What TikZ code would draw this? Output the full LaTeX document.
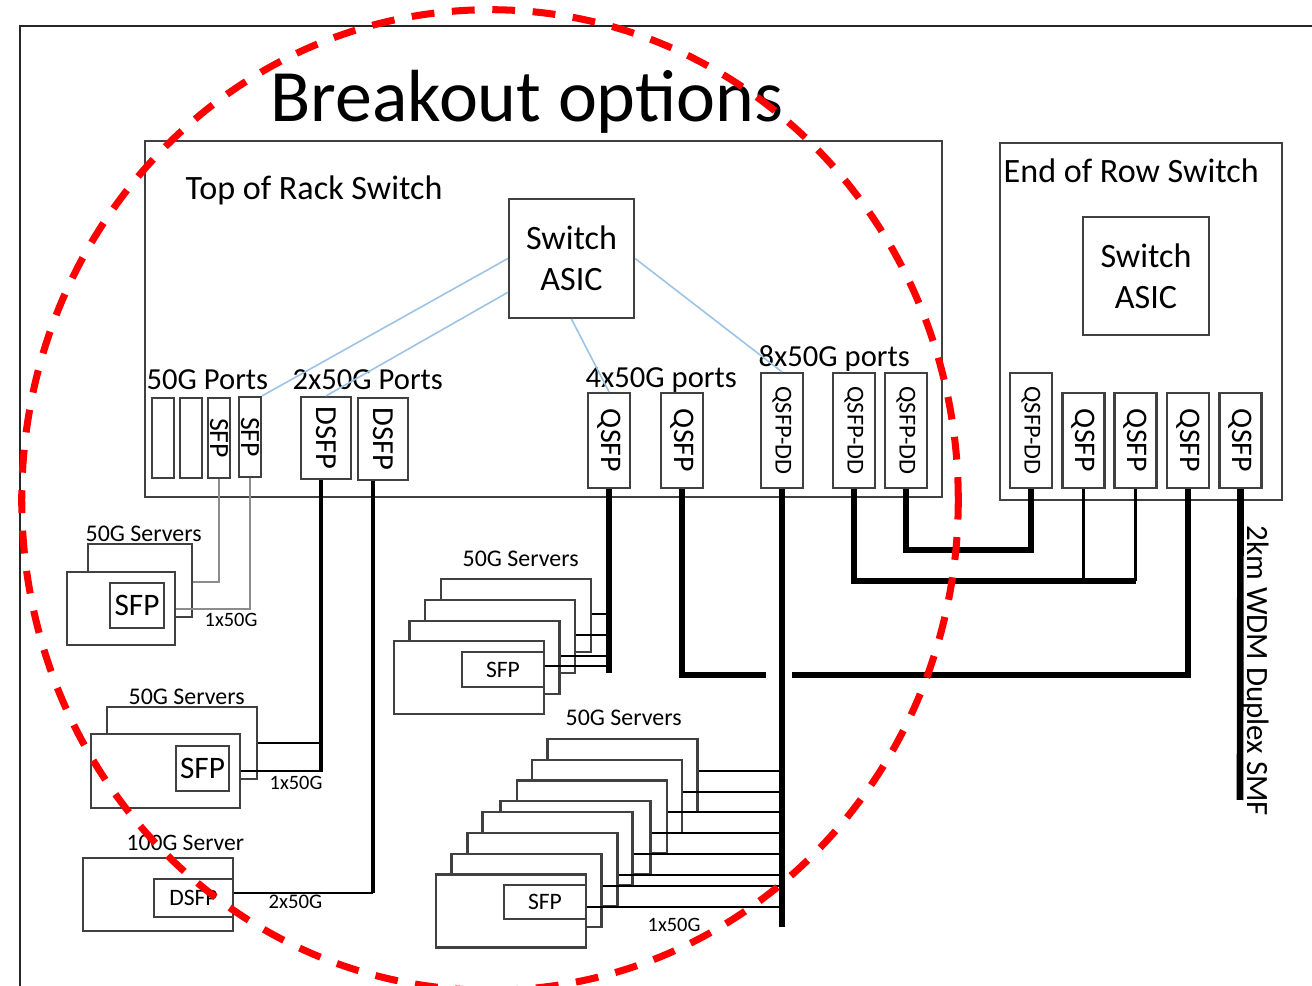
\documentclass[tikz,border=0pt]{standalone}
\usepackage{fontspec}
\setmainfont{Carlito}
\usepackage{graphicx}
\definecolor{boxgray}{HTML}{404040}
\definecolor{asicblue}{HTML}{9DC3E6}
\newcommand{\vtext}[1]{\rotatebox{-90}{#1}}
\newcommand{\fsz}[1]{\fontsize{#1}{#1}\selectfont}

\begin{document}
\begin{tikzpicture}[x=0.01cm, y=-0.01cm,
    bx/.style={draw=boxgray, line width=0.6pt, fill=white, inner sep=0pt},
    slot/.style={bx, minimum width=0.22cm, minimum height=0.8cm, font=\fsz{7.9}},
    dport/.style={bx, minimum width=0.5cm, minimum height=0.82cm, font=\fsz{8.7}},
    qport/.style={bx, minimum width=0.42cm, minimum height=0.95cm, font=\fsz{8.5}},
    ddport/.style={bx, minimum width=0.42cm, minimum height=1.15cm, font=\fsz{6.9}},
    srv/.style={bx, minimum width=1.5cm, minimum height=0.73cm},
    lbl/.style={anchor=base west, inner sep=0pt},
    fiber/.style={line width=1.9pt},
    cable/.style={line width=1.1pt},
    lane/.style={line width=0.45pt},
    tap/.style={line width=0.4pt, black!45},
    link/.style={asicblue, line width=0.45pt}]
  \useasboundingbox (0,0) rectangle (1312,986);
  \draw[black!85, line width=0.5pt] (20,986) -- (20,26) -- (1312,26);

  % switches
  \node[bx, minimum width=7.97cm, minimum height=3.56cm] (tor) at (543.5,319) {};
  \node[bx, minimum width=2.82cm, minimum height=3.57cm] (ers) at (1141,321.5) {};
  \node[lbl, font=\fsz{21}] (title) at (270,122) {Breakout options};
  \node[lbl, font=\fsz{9.7}] (torlbl) at (185,200) {Top of Rack Switch};
  \node[lbl, font=\fsz{9.7}] (erslbl) at (1003,183) {End of Row Switch};
  \node[bx, minimum width=1.25cm, minimum height=1.19cm, align=center,
    font=\fontsize{9.7}{11.7}\selectfont] (asic1) at (571.5,258.5) {Switch\\ASIC};
  \node[bx, minimum width=1.26cm, minimum height=1.18cm, align=center,
    font=\fontsize{9.7}{11.7}\selectfont] (asic2) at (1146,276) {Switch\\ASIC};

  % top of rack ports
  \node[lbl, font=\fsz{8.7}] (l50) at (146,390) {50G Ports};
  \node[lbl, font=\fsz{8.7}] (l2x) at (292,390) {2x50G Ports};
  \node[lbl, font=\fsz{8.7}] (l4x) at (585,388) {4x50G ports};
  \node[lbl, font=\fsz{8.7}] (l8x) at (758,367) {8x50G ports};
  \node[slot] (slot1) at (163,438) {};
  \node[slot] (slot2) at (191,438) {};
  \node[slot] (sfp1) at (219,438) {\vtext{SFP}};
  \node[slot] (sfp2) at (250,437) {\vtext{SFP}};
  \node[dport] (dsfp1) at (326,438) {\vtext{DSFP}};
  \node[dport] (dsfp2) at (383,439) {\vtext{DSFP}};
  \node[qport] (q1) at (609,440.5) {\vtext{QSFP}};
  \node[qport] (q2) at (682,440.5) {\vtext{QSFP}};
  \node[ddport] (dd1) at (782,430.5) {\vtext{QSFP-DD}};
  \node[ddport] (dd2) at (854,430.5) {\vtext{QSFP-DD}};
  \node[ddport] (dd3) at (906,430.5) {\vtext{QSFP-DD}};

  % end of row ports
  \node[ddport] (edd) at (1031,430.5) {\vtext{QSFP-DD}};
  \node[qport] (eq1) at (1083.5,440.5) {\vtext{QSFP}};
  \node[qport] (eq2) at (1135.5,440.5) {\vtext{QSFP}};
  \node[qport] (eq3) at (1188,440.5) {\vtext{QSFP}};
  \node[qport] (eq4) at (1240.5,440.5) {\vtext{QSFP}};

  \draw[link] (asic1.west) -- (sfp2.north east);
  \draw[link] (asic1.208) -- (dsfp1.north);
  \draw[link] (asic1.south) -- (q1.north);
  \draw[link] (asic1.east) -- (dd1.north);

  % servers
  \node[lbl, font=\fsz{6.8}] (g1lbl) at (85,542) {50G Servers};
  \node[srv, minimum width=1.04cm] (s1b) at (140,580.5) {};
  \node[srv, minimum width=1.08cm] (s1f) at (121,608.5) {};
  \node[bx, minimum width=0.54cm, minimum height=0.45cm, font=\fsz{8.9}] (s1sfp) at (137,605.5) {SFP};
  \node[lbl, font=\fsz{5.8}] (g1rate) at (204,627) {1x50G};

  \node[lbl, font=\fsz{6.8}] (g2lbl) at (128,705) {50G Servers};
  \node[srv, minimum height=0.72cm] (s2b) at (182,743) {};
  \node[srv, minimum width=1.49cm, minimum height=0.74cm] (s2f) at (165.5,771) {};
  \node[bx, minimum width=0.53cm, minimum height=0.45cm, font=\fsz{8.9}] (s2sfp) at (202.5,768.5) {SFP};
  \node[lbl, font=\fsz{5.8}] (g2rate) at (269,790) {1x50G};

  \node[lbl, font=\fsz{6.7}] (g3lbl) at (126,851) {100G Server};
  \node[srv] (hsrv) at (158,894.5) {};
  \node[bx, minimum width=0.79cm, minimum height=0.38cm, font=\fsz{6.7}] (hsfp) at (193.5,898) {DSFP};
  \node[lbl, font=\fsz{5.9}] (g3rate) at (268,909) {2x50G};

  \node[lbl, font=\fsz{6.8}] (g4lbl) at (462,567) {50G Servers};
  \foreach \n/\cx/\cy in {1/516/615.5, 2/500/636.5, 3/484.5/657.5, 4/469/677.5}
    \node[srv] (m\n) at (\cx,\cy) {};
  \node[bx, minimum width=0.82cm, minimum height=0.35cm, font=\fsz{6.7}] (msfp) at (503,669.5) {SFP};

  \node[lbl, font=\fsz{6.8}] (g5lbl) at (565,726) {50G Servers};
  \foreach \n/\cx/\cy in {1/622.5/775.5, 2/607/796.5, 3/592/817, 4/575.5/837.5,
      5/557.5/848.5, 6/542.5/869.5, 7/526.5/890.5, 8/511/911}
    \node[srv] (r\n) at (\cx,\cy) {};
  \node[bx, minimum width=0.82cm, minimum height=0.34cm, font=\fsz{6.7}] (rsfp) at (545,902) {SFP};
  \node[lbl, font=\fsz{5.8}] (g5rate) at (647,932) {1x50G};

  % cabling
  \coordinate (d1end) at (321,772);
  \coordinate (d2end) at (373,893);
  \coordinate (q1end) at (609,673);
  \coordinate (ddend) at (782,927);
  \coordinate (gapl) at (766,675);
  \coordinate (gapr) at (792,675);
  \coordinate (smfend) at (1240,800);

  \draw[tap] (sfp1.south) |- (s1b.east |- 0,582);
  \draw[tap] (sfp2.south) |- (s1f.east |- 0,609);

  \draw[cable] (d1end |- dsfp1.south) -- (d1end);
  \draw[lane] (s2b.east) -- (s2b.east -| d1end);
  \draw[lane] (s2f.east) -- (s2f.east -| d1end);

  \draw[cable] (d2end |- dsfp2.south) -- (d2end);
  \draw[lane] (d2end) -- (d2end -| hsfp.east);

  \draw[fiber] (q1.south) -- (q1end);
  \foreach \n/\ly in {1/614, 2/635, 3/656, 4/666}
    \draw[lane] (m\n.east |- 0,\ly) -- (q1end |- 0,\ly);

  \draw[fiber] (dd1.south) -- (ddend);
  \foreach \n/\ly in {1/771, 2/792, 3/812, 4/833, 5/854, 6/875, 7/886, 8/907}
    \draw[lane] (r\n.east |- 0,\ly) -- (ddend |- 0,\ly);

  \draw[fiber] (q2.south) |- (gapl);
  \draw[fiber] (gapr) -| (eq3.south);
  \draw[fiber] (dd2.south) |- (eq2.south |- 0,581);
  \draw[cable] (eq1.south) -- (eq1.south |- 0,581);
  \draw[cable] (eq2.south) -- (eq2.south |- 0,581);
  \draw[fiber] (dd3.south) |- (edd.south |- 0,550) -- (edd.south);
  \draw[fiber] (eq4.south) -- (smfend);
  \node[lbl, rotate=-90, font=\fsz{8.8}] (smf) at (1247,525) {2km WDM Duplex SMF};

  \draw[red, line width=2pt, dash pattern=on 6.5pt off 5pt]
    (490,500) ellipse [x radius=4.68cm, y radius=4.9cm];
\end{tikzpicture}
\end{document}
